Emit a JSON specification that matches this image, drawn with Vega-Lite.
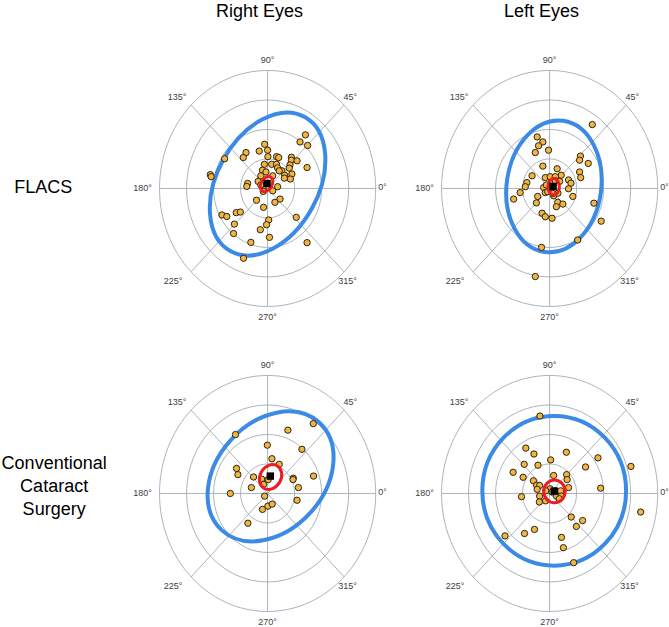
{
  "$schema": "https://vega.github.io/schema/vega-lite/v6.json",
  "padding": {"left": 1.5, "top": 3, "right": 0, "bottom": 0},
  "config": {"view": {"stroke": null}, "font": "Liberation Sans"},
  "data": {"values": [
    {"eye":"Right Eyes","group":"FLACS","kind":"rowlabel","label":"FLACS","x":-8.3,"y":0.0},
    {"eye":"Right Eyes","group":"Conventional Cataract Surgery","kind":"rowlabel","label":"Conventional Cataract Surgery","x":-7.9,"y":1.0},

    {"eye":"Right Eyes","group":"FLACS","kind":"ring","r":1,"x":0,"y":0},
    {"eye":"Right Eyes","group":"FLACS","kind":"ring","r":2,"x":0,"y":0},
    {"eye":"Right Eyes","group":"FLACS","kind":"ring","r":3,"x":0,"y":0},
    {"eye":"Right Eyes","group":"FLACS","kind":"ring","r":4,"x":0,"y":0},
    {"eye":"Left Eyes","group":"FLACS","kind":"ring","r":1,"x":0,"y":0},
    {"eye":"Left Eyes","group":"FLACS","kind":"ring","r":2,"x":0,"y":0},
    {"eye":"Left Eyes","group":"FLACS","kind":"ring","r":3,"x":0,"y":0},
    {"eye":"Left Eyes","group":"FLACS","kind":"ring","r":4,"x":0,"y":0},
    {"eye":"Right Eyes","group":"Conventional Cataract Surgery","kind":"ring","r":1,"x":0,"y":0},
    {"eye":"Right Eyes","group":"Conventional Cataract Surgery","kind":"ring","r":2,"x":0,"y":0},
    {"eye":"Right Eyes","group":"Conventional Cataract Surgery","kind":"ring","r":3,"x":0,"y":0},
    {"eye":"Right Eyes","group":"Conventional Cataract Surgery","kind":"ring","r":4,"x":0,"y":0},
    {"eye":"Left Eyes","group":"Conventional Cataract Surgery","kind":"ring","r":1,"x":0,"y":0},
    {"eye":"Left Eyes","group":"Conventional Cataract Surgery","kind":"ring","r":2,"x":0,"y":0},
    {"eye":"Left Eyes","group":"Conventional Cataract Surgery","kind":"ring","r":3,"x":0,"y":0},
    {"eye":"Left Eyes","group":"Conventional Cataract Surgery","kind":"ring","r":4,"x":0,"y":0},

    {"eye":"Right Eyes","group":"FLACS","kind":"spoke","x":-4,"y":0,"x2":4,"y2":0},
    {"eye":"Right Eyes","group":"FLACS","kind":"spoke","x":0,"y":-4,"x2":0,"y2":4},
    {"eye":"Right Eyes","group":"FLACS","kind":"spoke","x":-2.83,"y":-2.83,"x2":2.83,"y2":2.83},
    {"eye":"Right Eyes","group":"FLACS","kind":"spoke","x":-2.83,"y":2.83,"x2":2.83,"y2":-2.83},
    {"eye":"Left Eyes","group":"FLACS","kind":"spoke","x":-4,"y":0,"x2":4,"y2":0},
    {"eye":"Left Eyes","group":"FLACS","kind":"spoke","x":0,"y":-4,"x2":0,"y2":4},
    {"eye":"Left Eyes","group":"FLACS","kind":"spoke","x":-2.83,"y":-2.83,"x2":2.83,"y2":2.83},
    {"eye":"Left Eyes","group":"FLACS","kind":"spoke","x":-2.83,"y":2.83,"x2":2.83,"y2":-2.83},
    {"eye":"Right Eyes","group":"Conventional Cataract Surgery","kind":"spoke","x":-4,"y":0,"x2":4,"y2":0},
    {"eye":"Right Eyes","group":"Conventional Cataract Surgery","kind":"spoke","x":0,"y":-4,"x2":0,"y2":4},
    {"eye":"Right Eyes","group":"Conventional Cataract Surgery","kind":"spoke","x":-2.83,"y":-2.83,"x2":2.83,"y2":2.83},
    {"eye":"Right Eyes","group":"Conventional Cataract Surgery","kind":"spoke","x":-2.83,"y":2.83,"x2":2.83,"y2":-2.83},
    {"eye":"Left Eyes","group":"Conventional Cataract Surgery","kind":"spoke","x":-4,"y":0,"x2":4,"y2":0},
    {"eye":"Left Eyes","group":"Conventional Cataract Surgery","kind":"spoke","x":0,"y":-4,"x2":0,"y2":4},
    {"eye":"Left Eyes","group":"Conventional Cataract Surgery","kind":"spoke","x":-2.83,"y":-2.83,"x2":2.83,"y2":2.83},
    {"eye":"Left Eyes","group":"Conventional Cataract Surgery","kind":"spoke","x":-2.83,"y":2.83,"x2":2.83,"y2":-2.83},

    {"eye":"Right Eyes","group":"FLACS","kind":"label","label":"0°","x":4.25,"y":0.05},
    {"eye":"Right Eyes","group":"FLACS","kind":"label","label":"45°","x":3.06,"y":3.12},
    {"eye":"Right Eyes","group":"FLACS","kind":"label","label":"90°","x":0,"y":4.36},
    {"eye":"Right Eyes","group":"FLACS","kind":"label","label":"135°","x":-3.35,"y":3.12},
    {"eye":"Right Eyes","group":"FLACS","kind":"label","label":"180°","x":-4.63,"y":0.0},
    {"eye":"Right Eyes","group":"FLACS","kind":"label","label":"225°","x":-3.5,"y":-3.13},
    {"eye":"Right Eyes","group":"FLACS","kind":"label","label":"270°","x":0,"y":-4.37},
    {"eye":"Right Eyes","group":"FLACS","kind":"label","label":"315°","x":2.96,"y":-3.13},
    {"eye":"Left Eyes","group":"FLACS","kind":"label","label":"0°","x":4.25,"y":0.05},
    {"eye":"Left Eyes","group":"FLACS","kind":"label","label":"45°","x":3.06,"y":3.12},
    {"eye":"Left Eyes","group":"FLACS","kind":"label","label":"90°","x":0,"y":4.36},
    {"eye":"Left Eyes","group":"FLACS","kind":"label","label":"135°","x":-3.35,"y":3.12},
    {"eye":"Left Eyes","group":"FLACS","kind":"label","label":"180°","x":-4.63,"y":0.0},
    {"eye":"Left Eyes","group":"FLACS","kind":"label","label":"225°","x":-3.5,"y":-3.13},
    {"eye":"Left Eyes","group":"FLACS","kind":"label","label":"270°","x":0,"y":-4.37},
    {"eye":"Left Eyes","group":"FLACS","kind":"label","label":"315°","x":2.96,"y":-3.13},
    {"eye":"Right Eyes","group":"Conventional Cataract Surgery","kind":"label","label":"0°","x":4.25,"y":0.05},
    {"eye":"Right Eyes","group":"Conventional Cataract Surgery","kind":"label","label":"45°","x":3.06,"y":3.12},
    {"eye":"Right Eyes","group":"Conventional Cataract Surgery","kind":"label","label":"90°","x":0,"y":4.36},
    {"eye":"Right Eyes","group":"Conventional Cataract Surgery","kind":"label","label":"135°","x":-3.35,"y":3.12},
    {"eye":"Right Eyes","group":"Conventional Cataract Surgery","kind":"label","label":"180°","x":-4.63,"y":0.0},
    {"eye":"Right Eyes","group":"Conventional Cataract Surgery","kind":"label","label":"225°","x":-3.5,"y":-3.13},
    {"eye":"Right Eyes","group":"Conventional Cataract Surgery","kind":"label","label":"270°","x":0,"y":-4.37},
    {"eye":"Right Eyes","group":"Conventional Cataract Surgery","kind":"label","label":"315°","x":2.96,"y":-3.13},
    {"eye":"Left Eyes","group":"Conventional Cataract Surgery","kind":"label","label":"0°","x":4.25,"y":0.05},
    {"eye":"Left Eyes","group":"Conventional Cataract Surgery","kind":"label","label":"45°","x":3.06,"y":3.12},
    {"eye":"Left Eyes","group":"Conventional Cataract Surgery","kind":"label","label":"90°","x":0,"y":4.36},
    {"eye":"Left Eyes","group":"Conventional Cataract Surgery","kind":"label","label":"135°","x":-3.35,"y":3.12},
    {"eye":"Left Eyes","group":"Conventional Cataract Surgery","kind":"label","label":"180°","x":-4.63,"y":0.0},
    {"eye":"Left Eyes","group":"Conventional Cataract Surgery","kind":"label","label":"225°","x":-3.5,"y":-3.13},
    {"eye":"Left Eyes","group":"Conventional Cataract Surgery","kind":"label","label":"270°","x":0,"y":-4.37},
    {"eye":"Left Eyes","group":"Conventional Cataract Surgery","kind":"label","label":"315°","x":2.96,"y":-3.13},

    {"eye":"Right Eyes","group":"FLACS","kind":"ellipse","color":"blue","eid":"TLb","x":0.0,"y":0.15,"a":2.598,"tilt":61},
    {"eye":"Right Eyes","group":"FLACS","kind":"ellipse","color":"red","eid":"TLr","x":-0.04,"y":0.15,"a":0.278,"tilt":60},
    {"eye":"Left Eyes","group":"FLACS","kind":"ellipse","color":"blue","eid":"TRb","x":0.16,"y":0.07,"a":2.245,"tilt":82},
    {"eye":"Left Eyes","group":"FLACS","kind":"ellipse","color":"red","eid":"TRr","x":0.15,"y":0.06,"a":0.282,"tilt":90},
    {"eye":"Right Eyes","group":"Conventional Cataract Surgery","kind":"ellipse","color":"blue","eid":"BLb","x":0.11,"y":0.58,"a":2.462,"tilt":48},
    {"eye":"Right Eyes","group":"Conventional Cataract Surgery","kind":"ellipse","color":"red","eid":"BLr","x":0.11,"y":0.56,"a":0.441,"tilt":60},
    {"eye":"Left Eyes","group":"Conventional Cataract Surgery","kind":"ellipse","color":"blue","eid":"BRb","x":0.17,"y":0.09,"a":2.536,"tilt":90},
    {"eye":"Left Eyes","group":"Conventional Cataract Surgery","kind":"ellipse","color":"red","eid":"BRr","x":0.18,"y":0.07,"a":0.384,"tilt":90},

    {"eye":"Right Eyes","group":"FLACS","kind":"mean","x":-0.02,"y":0.17},
    {"eye":"Left Eyes","group":"FLACS","kind":"mean","x":0.13,"y":0.07},
    {"eye":"Right Eyes","group":"Conventional Cataract Surgery","kind":"mean","x":0.10,"y":0.59},
    {"eye":"Left Eyes","group":"Conventional Cataract Surgery","kind":"mean","x":0.17,"y":0.08},

    {"eye":"Right Eyes","group":"FLACS","kind":"pt","x":1.40,"y":1.82},
    {"eye":"Right Eyes","group":"FLACS","kind":"pt","x":1.20,"y":1.58},
    {"eye":"Right Eyes","group":"FLACS","kind":"pt","x":1.48,"y":1.46},
    {"eye":"Right Eyes","group":"FLACS","kind":"pt","x":-0.11,"y":1.50},
    {"eye":"Right Eyes","group":"FLACS","kind":"pt","x":0.00,"y":1.30},
    {"eye":"Right Eyes","group":"FLACS","kind":"pt","x":-0.31,"y":1.27},
    {"eye":"Right Eyes","group":"FLACS","kind":"pt","x":-0.80,"y":1.22},
    {"eye":"Right Eyes","group":"FLACS","kind":"pt","x":-0.90,"y":1.05},
    {"eye":"Right Eyes","group":"FLACS","kind":"pt","x":-1.59,"y":1.01},
    {"eye":"Right Eyes","group":"FLACS","kind":"pt","x":0.01,"y":1.08},
    {"eye":"Right Eyes","group":"FLACS","kind":"pt","x":0.33,"y":1.08},
    {"eye":"Right Eyes","group":"FLACS","kind":"pt","x":0.41,"y":1.05},
    {"eye":"Right Eyes","group":"FLACS","kind":"pt","x":0.88,"y":1.06},
    {"eye":"Right Eyes","group":"FLACS","kind":"pt","x":0.88,"y":0.96},
    {"eye":"Right Eyes","group":"FLACS","kind":"pt","x":1.09,"y":0.94},
    {"eye":"Right Eyes","group":"FLACS","kind":"pt","x":-0.12,"y":0.82},
    {"eye":"Right Eyes","group":"FLACS","kind":"pt","x":0.15,"y":0.82},
    {"eye":"Right Eyes","group":"FLACS","kind":"pt","x":0.33,"y":0.82},
    {"eye":"Right Eyes","group":"FLACS","kind":"pt","x":0.83,"y":0.80},
    {"eye":"Right Eyes","group":"FLACS","kind":"pt","x":1.46,"y":0.71},
    {"eye":"Right Eyes","group":"FLACS","kind":"pt","x":-0.19,"y":0.62},
    {"eye":"Right Eyes","group":"FLACS","kind":"pt","x":-0.06,"y":0.56},
    {"eye":"Right Eyes","group":"FLACS","kind":"pt","x":0.37,"y":0.70},
    {"eye":"Right Eyes","group":"FLACS","kind":"pt","x":0.53,"y":0.60},
    {"eye":"Right Eyes","group":"FLACS","kind":"pt","x":0.80,"y":0.69},
    {"eye":"Right Eyes","group":"FLACS","kind":"pt","x":0.90,"y":0.49},
    {"eye":"Right Eyes","group":"FLACS","kind":"pt","x":0.63,"y":0.45},
    {"eye":"Right Eyes","group":"FLACS","kind":"pt","x":0.84,"y":0.32},
    {"eye":"Right Eyes","group":"FLACS","kind":"pt","x":0.43,"y":0.60},
    {"eye":"Right Eyes","group":"FLACS","kind":"pt","x":-0.25,"y":0.43},
    {"eye":"Right Eyes","group":"FLACS","kind":"pt","x":-0.35,"y":0.24},
    {"eye":"Right Eyes","group":"FLACS","kind":"pt","x":-2.12,"y":0.47},
    {"eye":"Right Eyes","group":"FLACS","kind":"pt","x":-2.09,"y":0.40},
    {"eye":"Right Eyes","group":"FLACS","kind":"pt","x":-0.74,"y":0.17},
    {"eye":"Right Eyes","group":"FLACS","kind":"pt","x":-0.77,"y":0.07},
    {"eye":"Right Eyes","group":"FLACS","kind":"pt","x":0.37,"y":0.06},
    {"eye":"Right Eyes","group":"FLACS","kind":"pt","x":-0.16,"y":-0.02},
    {"eye":"Right Eyes","group":"FLACS","kind":"pt","x":0.19,"y":-0.08},
    {"eye":"Right Eyes","group":"FLACS","kind":"pt","x":-0.16,"y":-0.10},
    {"eye":"Right Eyes","group":"FLACS","kind":"pt","x":-0.41,"y":-0.40},
    {"eye":"Right Eyes","group":"FLACS","kind":"pt","x":0.46,"y":-0.36},
    {"eye":"Right Eyes","group":"FLACS","kind":"pt","x":0.27,"y":-0.47},
    {"eye":"Right Eyes","group":"FLACS","kind":"pt","x":-0.15,"y":-0.64},
    {"eye":"Right Eyes","group":"FLACS","kind":"pt","x":-1.69,"y":-0.90},
    {"eye":"Right Eyes","group":"FLACS","kind":"pt","x":-1.51,"y":-0.95},
    {"eye":"Right Eyes","group":"FLACS","kind":"pt","x":-1.16,"y":-0.82},
    {"eye":"Right Eyes","group":"FLACS","kind":"pt","x":-1.01,"y":-0.80},
    {"eye":"Right Eyes","group":"FLACS","kind":"pt","x":1.06,"y":-0.98},
    {"eye":"Right Eyes","group":"FLACS","kind":"pt","x":0.04,"y":-1.07},
    {"eye":"Right Eyes","group":"FLACS","kind":"pt","x":-0.04,"y":-1.23},
    {"eye":"Right Eyes","group":"FLACS","kind":"pt","x":-1.23,"y":-1.21},
    {"eye":"Right Eyes","group":"FLACS","kind":"pt","x":-0.27,"y":-1.40},
    {"eye":"Right Eyes","group":"FLACS","kind":"pt","x":-1.26,"y":-1.53},
    {"eye":"Right Eyes","group":"FLACS","kind":"pt","x":0.07,"y":-1.66},
    {"eye":"Right Eyes","group":"FLACS","kind":"pt","x":-0.62,"y":-1.83},
    {"eye":"Right Eyes","group":"FLACS","kind":"pt","x":1.46,"y":-1.84},
    {"eye":"Right Eyes","group":"FLACS","kind":"pt","x":-0.89,"y":-2.37},
    {"eye":"Right Eyes","group":"FLACS","kind":"pt","x":0.62,"y":0.35},
    {"eye":"Right Eyes","group":"FLACS","kind":"pt","x":0.19,"y":0.43},
    {"eye":"Right Eyes","group":"FLACS","kind":"pt","x":-0.25,"y":0.12},

    {"eye":"Left Eyes","group":"FLACS","kind":"pt","x":1.58,"y":2.17},
    {"eye":"Left Eyes","group":"FLACS","kind":"pt","x":-0.46,"y":1.75},
    {"eye":"Left Eyes","group":"FLACS","kind":"pt","x":-0.25,"y":1.58},
    {"eye":"Left Eyes","group":"FLACS","kind":"pt","x":-0.41,"y":1.45},
    {"eye":"Left Eyes","group":"FLACS","kind":"pt","x":-0.53,"y":1.22},
    {"eye":"Left Eyes","group":"FLACS","kind":"pt","x":-0.04,"y":1.30},
    {"eye":"Left Eyes","group":"FLACS","kind":"pt","x":1.14,"y":1.10},
    {"eye":"Left Eyes","group":"FLACS","kind":"pt","x":1.11,"y":0.96},
    {"eye":"Left Eyes","group":"FLACS","kind":"pt","x":1.43,"y":0.85},
    {"eye":"Left Eyes","group":"FLACS","kind":"pt","x":-0.25,"y":0.76},
    {"eye":"Left Eyes","group":"FLACS","kind":"pt","x":0.28,"y":0.67},
    {"eye":"Left Eyes","group":"FLACS","kind":"pt","x":1.11,"y":0.56},
    {"eye":"Left Eyes","group":"FLACS","kind":"pt","x":1.15,"y":0.37},
    {"eye":"Left Eyes","group":"FLACS","kind":"pt","x":0.43,"y":0.45},
    {"eye":"Left Eyes","group":"FLACS","kind":"pt","x":-0.65,"y":0.43},
    {"eye":"Left Eyes","group":"FLACS","kind":"pt","x":-0.16,"y":0.37},
    {"eye":"Left Eyes","group":"FLACS","kind":"pt","x":0.02,"y":0.40},
    {"eye":"Left Eyes","group":"FLACS","kind":"pt","x":0.21,"y":0.40},
    {"eye":"Left Eyes","group":"FLACS","kind":"pt","x":0.70,"y":0.29},
    {"eye":"Left Eyes","group":"FLACS","kind":"pt","x":0.79,"y":0.18},
    {"eye":"Left Eyes","group":"FLACS","kind":"pt","x":-0.84,"y":0.20},
    {"eye":"Left Eyes","group":"FLACS","kind":"pt","x":-0.90,"y":0.06},
    {"eye":"Left Eyes","group":"FLACS","kind":"pt","x":-0.22,"y":0.03},
    {"eye":"Left Eyes","group":"FLACS","kind":"pt","x":-0.16,"y":-0.14},
    {"eye":"Left Eyes","group":"FLACS","kind":"pt","x":0.15,"y":-0.25},
    {"eye":"Left Eyes","group":"FLACS","kind":"pt","x":0.70,"y":-0.01},
    {"eye":"Left Eyes","group":"FLACS","kind":"pt","x":-1.09,"y":-0.14},
    {"eye":"Left Eyes","group":"FLACS","kind":"pt","x":-1.33,"y":-0.36},
    {"eye":"Left Eyes","group":"FLACS","kind":"pt","x":-0.44,"y":-0.27},
    {"eye":"Left Eyes","group":"FLACS","kind":"pt","x":-0.49,"y":-0.49},
    {"eye":"Left Eyes","group":"FLACS","kind":"pt","x":0.86,"y":-0.27},
    {"eye":"Left Eyes","group":"FLACS","kind":"pt","x":0.30,"y":-0.47},
    {"eye":"Left Eyes","group":"FLACS","kind":"pt","x":0.49,"y":-0.53},
    {"eye":"Left Eyes","group":"FLACS","kind":"pt","x":0.25,"y":-0.62},
    {"eye":"Left Eyes","group":"FLACS","kind":"pt","x":-0.28,"y":-0.84},
    {"eye":"Left Eyes","group":"FLACS","kind":"pt","x":-0.16,"y":-0.96},
    {"eye":"Left Eyes","group":"FLACS","kind":"pt","x":0.09,"y":-1.01},
    {"eye":"Left Eyes","group":"FLACS","kind":"pt","x":1.64,"y":-0.50},
    {"eye":"Left Eyes","group":"FLACS","kind":"pt","x":1.91,"y":-1.11},
    {"eye":"Left Eyes","group":"FLACS","kind":"pt","x":1.04,"y":-1.75},
    {"eye":"Left Eyes","group":"FLACS","kind":"pt","x":-0.30,"y":-2.00},
    {"eye":"Left Eyes","group":"FLACS","kind":"pt","x":-0.53,"y":-2.99},
    {"eye":"Left Eyes","group":"FLACS","kind":"pt","x":0.05,"y":0.20},
    {"eye":"Left Eyes","group":"FLACS","kind":"pt","x":0.21,"y":0.26},
    {"eye":"Left Eyes","group":"FLACS","kind":"pt","x":0.37,"y":0.24},
    {"eye":"Left Eyes","group":"FLACS","kind":"pt","x":-0.12,"y":0.12},
    {"eye":"Left Eyes","group":"FLACS","kind":"pt","x":0.12,"y":-0.17},
    {"eye":"Left Eyes","group":"FLACS","kind":"pt","x":0.31,"y":-0.16},
    {"eye":"Left Eyes","group":"FLACS","kind":"pt","x":-0.07,"y":-0.11},

    {"eye":"Right Eyes","group":"Conventional Cataract Surgery","kind":"pt","x":1.69,"y":2.37},
    {"eye":"Right Eyes","group":"Conventional Cataract Surgery","kind":"pt","x":-1.19,"y":2.00},
    {"eye":"Right Eyes","group":"Conventional Cataract Surgery","kind":"pt","x":0.75,"y":2.15},
    {"eye":"Right Eyes","group":"Conventional Cataract Surgery","kind":"pt","x":-0.01,"y":1.64},
    {"eye":"Right Eyes","group":"Conventional Cataract Surgery","kind":"pt","x":1.27,"y":1.50},
    {"eye":"Right Eyes","group":"Conventional Cataract Surgery","kind":"pt","x":0.16,"y":1.18},
    {"eye":"Right Eyes","group":"Conventional Cataract Surgery","kind":"pt","x":0.43,"y":0.99},
    {"eye":"Right Eyes","group":"Conventional Cataract Surgery","kind":"pt","x":-1.15,"y":0.85},
    {"eye":"Right Eyes","group":"Conventional Cataract Surgery","kind":"pt","x":-1.10,"y":0.64},
    {"eye":"Right Eyes","group":"Conventional Cataract Surgery","kind":"pt","x":-0.52,"y":0.56},
    {"eye":"Right Eyes","group":"Conventional Cataract Surgery","kind":"pt","x":-0.22,"y":0.49},
    {"eye":"Right Eyes","group":"Conventional Cataract Surgery","kind":"pt","x":-0.15,"y":0.31},
    {"eye":"Right Eyes","group":"Conventional Cataract Surgery","kind":"pt","x":0.02,"y":0.47},
    {"eye":"Right Eyes","group":"Conventional Cataract Surgery","kind":"pt","x":0.95,"y":0.52},
    {"eye":"Right Eyes","group":"Conventional Cataract Surgery","kind":"pt","x":0.94,"y":0.47},
    {"eye":"Right Eyes","group":"Conventional Cataract Surgery","kind":"pt","x":1.70,"y":0.59},
    {"eye":"Right Eyes","group":"Conventional Cataract Surgery","kind":"pt","x":-0.60,"y":0.20},
    {"eye":"Right Eyes","group":"Conventional Cataract Surgery","kind":"pt","x":1.14,"y":0.20},
    {"eye":"Right Eyes","group":"Conventional Cataract Surgery","kind":"pt","x":-1.38,"y":0.00},
    {"eye":"Right Eyes","group":"Conventional Cataract Surgery","kind":"pt","x":-0.11,"y":-0.09},
    {"eye":"Right Eyes","group":"Conventional Cataract Surgery","kind":"pt","x":1.09,"y":-0.23},
    {"eye":"Right Eyes","group":"Conventional Cataract Surgery","kind":"pt","x":0.01,"y":-0.43},
    {"eye":"Right Eyes","group":"Conventional Cataract Surgery","kind":"pt","x":0.17,"y":-0.36},
    {"eye":"Right Eyes","group":"Conventional Cataract Surgery","kind":"pt","x":-0.19,"y":-0.54},
    {"eye":"Right Eyes","group":"Conventional Cataract Surgery","kind":"pt","x":-0.73,"y":-1.01},

    {"eye":"Left Eyes","group":"Conventional Cataract Surgery","kind":"pt","x":-0.36,"y":2.63},
    {"eye":"Left Eyes","group":"Conventional Cataract Surgery","kind":"pt","x":-0.88,"y":1.54},
    {"eye":"Left Eyes","group":"Conventional Cataract Surgery","kind":"pt","x":-0.58,"y":1.34},
    {"eye":"Left Eyes","group":"Conventional Cataract Surgery","kind":"pt","x":0.62,"y":1.40},
    {"eye":"Left Eyes","group":"Conventional Cataract Surgery","kind":"pt","x":1.79,"y":1.21},
    {"eye":"Left Eyes","group":"Conventional Cataract Surgery","kind":"pt","x":3.01,"y":0.92},
    {"eye":"Left Eyes","group":"Conventional Cataract Surgery","kind":"pt","x":0.04,"y":1.14},
    {"eye":"Left Eyes","group":"Conventional Cataract Surgery","kind":"pt","x":-0.94,"y":0.99},
    {"eye":"Left Eyes","group":"Conventional Cataract Surgery","kind":"pt","x":-0.43,"y":0.96},
    {"eye":"Left Eyes","group":"Conventional Cataract Surgery","kind":"pt","x":1.33,"y":0.90},
    {"eye":"Left Eyes","group":"Conventional Cataract Surgery","kind":"pt","x":-1.35,"y":0.72},
    {"eye":"Left Eyes","group":"Conventional Cataract Surgery","kind":"pt","x":-0.98,"y":0.55},
    {"eye":"Left Eyes","group":"Conventional Cataract Surgery","kind":"pt","x":0.15,"y":0.61},
    {"eye":"Left Eyes","group":"Conventional Cataract Surgery","kind":"pt","x":0.63,"y":0.64},
    {"eye":"Left Eyes","group":"Conventional Cataract Surgery","kind":"pt","x":0.65,"y":0.47},
    {"eye":"Left Eyes","group":"Conventional Cataract Surgery","kind":"pt","x":-0.60,"y":0.43},
    {"eye":"Left Eyes","group":"Conventional Cataract Surgery","kind":"pt","x":-0.48,"y":0.28},
    {"eye":"Left Eyes","group":"Conventional Cataract Surgery","kind":"pt","x":-0.37,"y":0.27},
    {"eye":"Left Eyes","group":"Conventional Cataract Surgery","kind":"pt","x":-0.46,"y":0.14},
    {"eye":"Left Eyes","group":"Conventional Cataract Surgery","kind":"pt","x":0.70,"y":0.20},
    {"eye":"Left Eyes","group":"Conventional Cataract Surgery","kind":"pt","x":1.89,"y":0.18},
    {"eye":"Left Eyes","group":"Conventional Cataract Surgery","kind":"pt","x":-1.04,"y":-0.11},
    {"eye":"Left Eyes","group":"Conventional Cataract Surgery","kind":"pt","x":-0.37,"y":-0.09},
    {"eye":"Left Eyes","group":"Conventional Cataract Surgery","kind":"pt","x":-0.38,"y":-0.29},
    {"eye":"Left Eyes","group":"Conventional Cataract Surgery","kind":"pt","x":-0.15,"y":-0.25},
    {"eye":"Left Eyes","group":"Conventional Cataract Surgery","kind":"pt","x":3.37,"y":-0.63},
    {"eye":"Left Eyes","group":"Conventional Cataract Surgery","kind":"pt","x":0.80,"y":-0.80},
    {"eye":"Left Eyes","group":"Conventional Cataract Surgery","kind":"pt","x":1.22,"y":-0.92},
    {"eye":"Left Eyes","group":"Conventional Cataract Surgery","kind":"pt","x":0.99,"y":-1.12},
    {"eye":"Left Eyes","group":"Conventional Cataract Surgery","kind":"pt","x":-0.56,"y":-1.22},
    {"eye":"Left Eyes","group":"Conventional Cataract Surgery","kind":"pt","x":-0.93,"y":-1.36},
    {"eye":"Left Eyes","group":"Conventional Cataract Surgery","kind":"pt","x":-1.65,"y":-1.44},
    {"eye":"Left Eyes","group":"Conventional Cataract Surgery","kind":"pt","x":0.44,"y":-1.49},
    {"eye":"Left Eyes","group":"Conventional Cataract Surgery","kind":"pt","x":0.51,"y":-1.84},
    {"eye":"Left Eyes","group":"Conventional Cataract Surgery","kind":"pt","x":0.89,"y":-2.35},
    {"eye":"Left Eyes","group":"Conventional Cataract Surgery","kind":"pt","x":0.02,"y":0.16},
    {"eye":"Left Eyes","group":"Conventional Cataract Surgery","kind":"pt","x":0.22,"y":0.09},
    {"eye":"Left Eyes","group":"Conventional Cataract Surgery","kind":"pt","x":0.41,"y":0.09},
    {"eye":"Left Eyes","group":"Conventional Cataract Surgery","kind":"pt","x":0.09,"y":0.05},
    {"eye":"Left Eyes","group":"Conventional Cataract Surgery","kind":"pt","x":0.26,"y":-0.09},
    {"eye":"Left Eyes","group":"Conventional Cataract Surgery","kind":"pt","x":0.43,"y":-0.09},
    {"eye":"Left Eyes","group":"Conventional Cataract Surgery","kind":"pt","x":0.36,"y":-0.18},
    {"eye":"Left Eyes","group":"Conventional Cataract Surgery","kind":"pt","x":-0.14,"y":0.09}
  ]},
  "facet": {
    "column": {"field": "eye", "type": "nominal", "sort": ["Right Eyes", "Left Eyes"],
      "header": {"title": null, "labelFontSize": 18, "labelFont": "Liberation Sans", "labelColor": "#000000", "labelPadding": 32}},
    "row": {"field": "group", "type": "nominal", "sort": ["FLACS", "Conventional Cataract Surgery"],
      "header": {"title": null, "labels": false}}
  },
  "spacing": {"row": 37, "column": 28},
  "spec": {
    "width": 254,
    "height": 268,
    "encoding": {
      "x": {"field": "x", "type": "quantitative", "scale": {"domain": [-5, 4.4], "nice": false, "zero": false}, "axis": null},
      "y": {"field": "y", "type": "quantitative", "scale": {"domain": [-4.5, 4.6], "nice": false, "zero": false}, "axis": null}
    },
    "layer": [
      {
        "transform": [{"filter": "datum.kind === 'ring'"}],
        "mark": {"type": "point", "shape": "M 0.916 0 C 0.916 0.5523 0.5059 1 0 1 C -0.5059 1 -0.916 0.5523 -0.916 0 C -0.916 -0.5523 -0.5059 -1 0 -1 C 0.5059 -1 0.916 -0.5523 0.916 0 Z", "filled": false, "stroke": "#A3ABB3", "strokeWidth": 0.9, "opacity": 1},
        "encoding": {
          "size": {"field": "r", "type": "quantitative", "scale": {"type": "pow", "exponent": 2, "domain": [0, 4], "range": [0, 55696]}, "legend": null}
        }
      },
      {
        "transform": [{"filter": "datum.kind === 'spoke'"}],
        "mark": {"type": "rule", "stroke": "#A3ABB3", "strokeWidth": 0.9},
        "encoding": {
          "x2": {"field": "x2"},
          "y2": {"field": "y2"}
        }
      },
      {
        "transform": [{"filter": "datum.kind === 'ellipse' && datum.color === 'blue'"}],
        "mark": {"type": "point", "filled": false, "stroke": "#3B8AE6", "strokeWidth": 4, "opacity": 1},
        "encoding": {
          "shape": {"field": "eid", "type": "nominal", "legend": null,
            "scale": {"domain": ["TLb","TLr","TRb","TRr","BLb","BLr","BRb","BRr"],
              "range": [
                "M 1 0 C 1 0.3645 0.5523 0.66 0 0.66 C -0.5523 0.66 -1 0.3645 -1 0 C -1 -0.3645 -0.5523 -0.66 0 -0.66 C 0.5523 -0.66 1 -0.3645 1 0 Z",
                "M 1 0 C 1 0.37 0.5523 0.67 0 0.67 C -0.5523 0.67 -1 0.37 -1 0 C -1 -0.37 -0.5523 -0.67 0 -0.67 C 0.5523 -0.67 1 -0.37 1 0 Z",
                "M 1 0 C 1 0.3943 0.5523 0.714 0 0.714 C -0.5523 0.714 -1 0.3943 -1 0 C -1 -0.3943 -0.5523 -0.714 0 -0.714 C 0.5523 -0.714 1 -0.3943 1 0 Z",
                "M 1 0 C 1 0.3811 0.5523 0.69 0 0.69 C -0.5523 0.69 -1 0.3811 -1 0 C -1 -0.3811 -0.5523 -0.69 0 -0.69 C 0.5523 -0.69 1 -0.3811 1 0 Z",
                "M 1 0 C 1 0.4098 0.5523 0.742 0 0.742 C -0.5523 0.742 -1 0.4098 -1 0 C -1 -0.4098 -0.5523 -0.742 0 -0.742 C 0.5523 -0.742 1 -0.4098 1 0 Z",
                "M 1 0 C 1 0.4474 0.5523 0.81 0 0.81 C -0.5523 0.81 -1 0.4474 -1 0 C -1 -0.4474 -0.5523 -0.81 0 -0.81 C 0.5523 -0.81 1 -0.4474 1 0 Z",
                "M 1 0 C 1 0.5308 0.5523 0.961 0 0.961 C -0.5523 0.961 -1 0.5308 -1 0 C -1 -0.5308 -0.5523 -0.961 0 -0.961 C 0.5523 -0.961 1 -0.5308 1 0 Z",
                "M 1 0 C 1 0.523 0.5523 0.947 0 0.947 C -0.5523 0.947 -1 0.523 -1 0 C -1 -0.523 -0.5523 -0.947 0 -0.947 C 0.5523 -0.947 1 -0.523 1 0 Z"]}},
          "size": {"field": "a", "type": "quantitative", "scale": {"type": "pow", "exponent": 2, "domain": [0, 4], "range": [0, 55696]}, "legend": null},
          "angle": {"field": "tilt", "type": "quantitative", "scale": {"domain": [0, 360], "range": [360, 0]}, "legend": null}
        }
      },
      {
        "transform": [{"filter": "datum.kind === 'pt'"}],
        "mark": {"type": "point", "filled": true, "fill": "#F2B63E", "stroke": "#2A2418", "strokeWidth": 1, "size": 40, "opacity": 1}
      },
      {
        "transform": [{"filter": "datum.kind === 'ellipse' && datum.color === 'red'"}],
        "mark": {"type": "point", "filled": false, "stroke": "#EC1C24", "strokeWidth": 3, "opacity": 1},
        "encoding": {
          "shape": {"field": "eid", "type": "nominal", "legend": null,
            "scale": {"domain": ["TLb","TLr","TRb","TRr","BLb","BLr","BRb","BRr"],
              "range": [
                "M 1 0 C 1 0.3645 0.5523 0.66 0 0.66 C -0.5523 0.66 -1 0.3645 -1 0 C -1 -0.3645 -0.5523 -0.66 0 -0.66 C 0.5523 -0.66 1 -0.3645 1 0 Z",
                "M 1 0 C 1 0.37 0.5523 0.67 0 0.67 C -0.5523 0.67 -1 0.37 -1 0 C -1 -0.37 -0.5523 -0.67 0 -0.67 C 0.5523 -0.67 1 -0.37 1 0 Z",
                "M 1 0 C 1 0.3943 0.5523 0.714 0 0.714 C -0.5523 0.714 -1 0.3943 -1 0 C -1 -0.3943 -0.5523 -0.714 0 -0.714 C 0.5523 -0.714 1 -0.3943 1 0 Z",
                "M 1 0 C 1 0.3811 0.5523 0.69 0 0.69 C -0.5523 0.69 -1 0.3811 -1 0 C -1 -0.3811 -0.5523 -0.69 0 -0.69 C 0.5523 -0.69 1 -0.3811 1 0 Z",
                "M 1 0 C 1 0.4098 0.5523 0.742 0 0.742 C -0.5523 0.742 -1 0.4098 -1 0 C -1 -0.4098 -0.5523 -0.742 0 -0.742 C 0.5523 -0.742 1 -0.4098 1 0 Z",
                "M 1 0 C 1 0.4474 0.5523 0.81 0 0.81 C -0.5523 0.81 -1 0.4474 -1 0 C -1 -0.4474 -0.5523 -0.81 0 -0.81 C 0.5523 -0.81 1 -0.4474 1 0 Z",
                "M 1 0 C 1 0.5308 0.5523 0.961 0 0.961 C -0.5523 0.961 -1 0.5308 -1 0 C -1 -0.5308 -0.5523 -0.961 0 -0.961 C 0.5523 -0.961 1 -0.5308 1 0 Z",
                "M 1 0 C 1 0.523 0.5523 0.947 0 0.947 C -0.5523 0.947 -1 0.523 -1 0 C -1 -0.523 -0.5523 -0.947 0 -0.947 C 0.5523 -0.947 1 -0.523 1 0 Z"]}},
          "size": {"field": "a", "type": "quantitative", "scale": {"type": "pow", "exponent": 2, "domain": [0, 4], "range": [0, 55696]}, "legend": null},
          "angle": {"field": "tilt", "type": "quantitative", "scale": {"domain": [0, 360], "range": [360, 0]}, "legend": null}
        }
      },
      {
        "transform": [{"filter": "datum.kind === 'mean'"}],
        "mark": {"type": "square", "color": "#000000", "size": 55, "opacity": 1}
      },
      {
        "transform": [{"filter": "datum.kind === 'label'"}],
        "mark": {"type": "text", "fontSize": 9, "color": "#404040", "align": "center", "baseline": "middle", "clip": true, "font": "Liberation Sans"},
        "encoding": {"text": {"field": "label", "type": "nominal"}}
      },
      {
        "transform": [{"filter": "datum.kind === 'rowlabel'"}],
        "mark": {"type": "text", "fontSize": 18, "color": "#000000", "align": "center", "baseline": "middle", "lineBreak": " ", "lineHeight": 23, "clip": false, "font": "Liberation Sans"},
        "encoding": {"text": {"field": "label", "type": "nominal"}}
      }
    ]
  }
}
